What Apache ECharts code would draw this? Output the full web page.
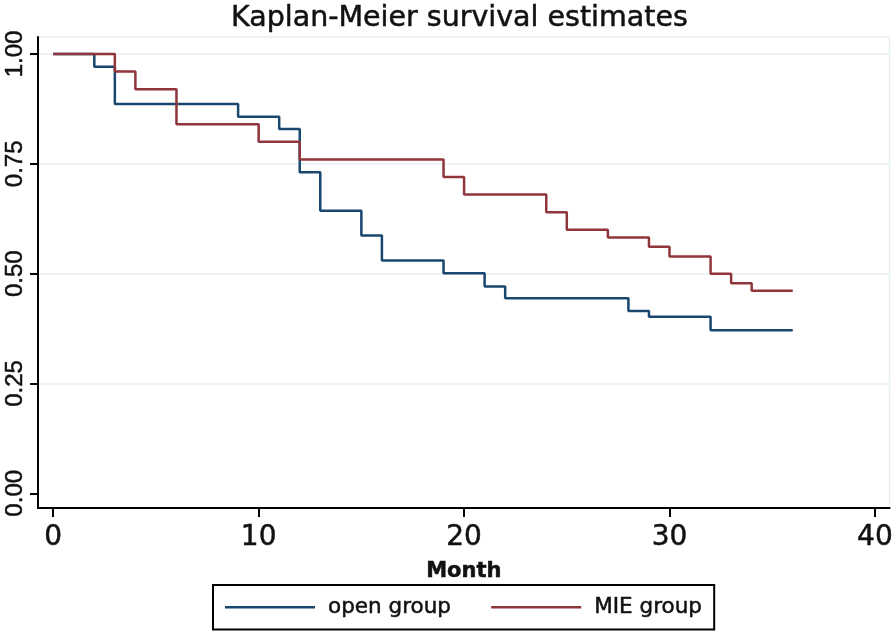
<!DOCTYPE html>
<html>
<head>
<meta charset="utf-8">
<script src="https://cdn.jsdelivr.net/npm/echarts@6/dist/echarts.min.js"></script>
<style>
html,body{margin:0;padding:0;background:#fff;}
#chart{width:896px;height:632px;}
</style>
</head>
<body>
<div id="chart"></div>
<script>
// Data
const titleText = 'Kaplan-Meier survival estimates';
const xAxisName = 'Month';
const xTicks = [0, 10, 20, 30, 40];
const yTicks = [0, 0.25, 0.5, 0.75, 1.0];
const seriesNames = ['open group', 'MIE group'];
const openTimes = [0, 2, 3, 9, 11, 12, 13, 15, 16, 19, 21, 22, 28, 29, 32, 36];
const openSurv  = [1.0, 0.971, 0.886, 0.857, 0.829, 0.731, 0.643, 0.587, 0.530, 0.501, 0.471, 0.444, 0.415, 0.402, 0.371, 0.371];
const mieTimes  = [0, 3, 4, 6, 10, 12, 19, 20, 24, 25, 27, 29, 30, 32, 33, 34, 36];
const mieSurv   = [1.0, 0.96, 0.92, 0.84, 0.80, 0.76, 0.72, 0.68, 0.64, 0.60, 0.582, 0.561, 0.539, 0.50, 0.478, 0.461, 0.461];

const zip = (a, b) => a.map((v, i) => [v, b[i]]);
const chart = echarts.init(document.getElementById('chart'), null, {renderer: 'canvas'});
const blue = '#1a476f', red = '#90353b', grid = '#e6eff2', ink = '#111';
const heavy = {textBorderColor: ink, textBorderWidth: 0.5};
chart.setOption({
  animation: false,
  backgroundColor: '#ffffff',
  title: {
    text: titleText, left: 226, top: -1,
    textStyle: Object.assign({fontFamily: 'DejaVu Sans', fontSize: 28.5, fontWeight: 'normal', color: ink}, heavy)
  },
  legend: {
    data: seriesNames, top: 585, left: 213,
    padding: [11, 12, 11, 12], itemGap: 40,
    borderColor: '#000', borderWidth: 2,
    icon: 'rect', itemWidth: 90, itemHeight: 2.5,
    textStyle: Object.assign({fontFamily: 'DejaVu Sans', fontSize: 21.5, color: ink, padding: [3, 0, 0, 8]}, heavy)
  },
  grid: {
    left: 38, right: 2, top: 37, bottom: 124, show: true,
    borderColor: grid, borderWidth: 1.5, backgroundColor: '#fff', containLabel: false
  },
  xAxis: {
    type: 'value', min: -0.741, max: 40.711,
    name: xAxisName, nameLocation: 'middle', nameGap: 53,
    nameTextStyle: Object.assign({fontFamily: 'DejaVu Sans', fontSize: 21, fontWeight: 'bold', color: ink}, heavy),
    axisLine: {onZero: false, lineStyle: {color: '#000', width: 2}},
    axisTick: {customValues: xTicks, length: 9, lineStyle: {color: '#000', width: 2}},
    axisLabel: Object.assign({customValues: xTicks, margin: 16, fontFamily: 'DejaVu Sans', fontSize: 28, color: ink}, heavy),
    splitLine: {show: false}
  },
  yAxis: {
    type: 'value', min: -0.0335, max: 1.0387,
    axisLine: {show: true, onZero: false, lineStyle: {color: '#000', width: 2}},
    axisTick: {show: true, customValues: yTicks, length: 8, lineStyle: {color: '#000', width: 2}},
    axisLabel: Object.assign({customValues: yTicks, rotate: 90, margin: 11,
      fontFamily: 'Liberation Sans', fontSize: 24, color: ink,
      formatter: v => v.toFixed(2)}, heavy),
    splitLine: {show: true, lineStyle: {color: ['rgba(0,0,0,0)', grid, grid, grid, grid], width: 1.5}}
  },
  series: [
    {name: seriesNames[0], type: 'line', step: 'end', showSymbol: false, data: zip(openTimes, openSurv),
     color: blue, lineStyle: {color: blue, width: 2.5}},
    {name: seriesNames[1], type: 'line', step: 'end', showSymbol: false, data: zip(mieTimes, mieSurv),
     color: red, lineStyle: {color: red, width: 2.5}}
  ]
});
</script>
</body>
</html>
